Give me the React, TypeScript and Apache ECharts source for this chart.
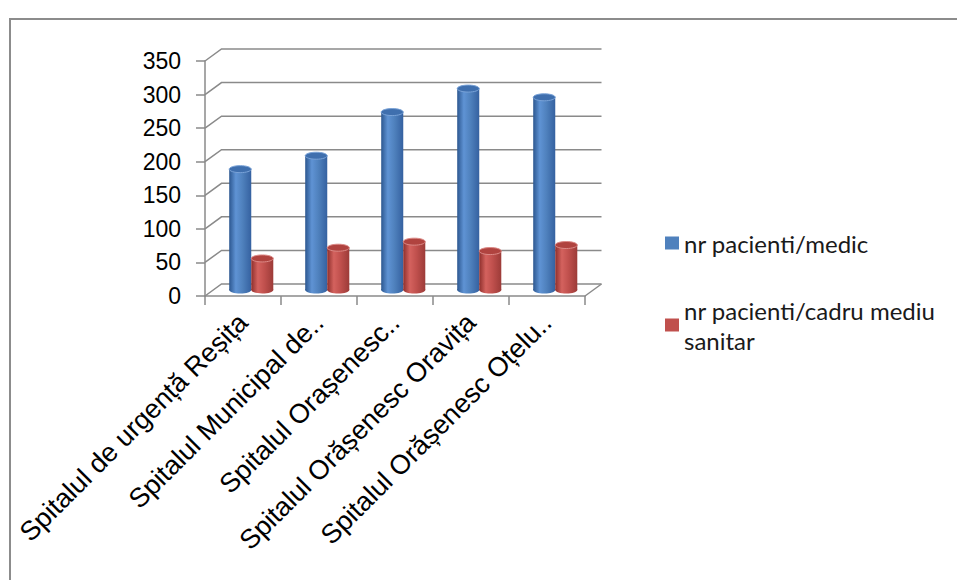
import React, { useEffect, useRef } from "react";
import * as echarts from "echarts";

const categories = [
  "Spitalul de urgență Reșița",
  "Spitalul Municipal de..",
  "Spitalul Orașenesc..",
  "Spitalul Orășenesc Oravița",
  "Spitalul Orășenesc Oțelu..",
];
const seriesNames = ["nr pacienti/medic", "nr pacienti/cadru mediu sanitar"];
const medicValues = [180, 200, 265, 300, 287];
const cadruValues = [47, 63, 72, 58, 67];
const yTicks = [0, 50, 100, 150, 200, 250, 300, 350];

const DX = 16.5;
const DY = 12;

function makeBarRender(side: number, palette: any) {
  return (params: any, api: any) => {
    const i = api.value(0);
    const v = api.value(1);
    const base = api.coord([i, 0]);
    const top = api.coord([i, v]);
    const bw = api.size([1, 0])[0];
    const w = bw * 0.29;
    const cx = base[0] + DX / 2 + side * (w / 2);
    const yb = base[1] - DY / 2;
    const yt = top[1] - DY / 2;
    const rx = w / 2;
    const ry = 3.5;
    const grad = new echarts.graphic.LinearGradient(0, 0, 1, 0, [
      { offset: 0, color: palette.dark },
      { offset: 0.3, color: palette.light },
      { offset: 0.6, color: palette.mid },
      { offset: 1, color: palette.edge },
    ]);
    return {
      type: "group",
      children: [
        { type: "rect", shape: { x: cx - rx, y: yt, width: w, height: yb - yt }, style: { fill: grad } },
        { type: "ellipse", shape: { cx, cy: yb, rx, ry }, style: { fill: grad } },
        { type: "ellipse", shape: { cx, cy: yt, rx, ry }, style: { fill: palette.top, stroke: palette.rim, lineWidth: 1 } },
      ],
    };
  };
}

export default function App() {
  const ref = useRef<HTMLDivElement>(null);
  useEffect(() => {
    const chart = echarts.init(ref.current as HTMLDivElement, null, { renderer: "svg" });
    const gray = "#8a8a8a";
    const option: any = {
      animation: false,
      backgroundColor: "#ffffff",
      graphic: [
        {
          type: "polyline",
          shape: { points: [[10, 580], [10, 19], [957, 19]] },
          style: { fill: "none", stroke: "#8c8c8c", lineWidth: 2 },
          silent: true,
        },
      ],
      legend: [
        {
          left: 660,
          top: 223,
          orient: "vertical",
          icon: "rect",
          itemWidth: 14,
          itemHeight: 13,
          itemGap: 8,
          data: [seriesNames[0]],
          textStyle: { fontFamily: "Lato", fontSize: 24, color: "#1a1a1a", lineHeight: 30 },
        },
        {
          left: 660,
          top: 275,
          orient: "vertical",
          icon: "rect",
          itemWidth: 14,
          itemHeight: 13,
          data: [seriesNames[1]],
          formatter: () => "nr pacienti/cadru mediu\nsanitar",
          textStyle: { fontFamily: "Lato", fontSize: 24, color: "#1a1a1a", lineHeight: 30, padding: [30, 0, 0, 0] },
        },
      ],
      grid: { left: 205, width: 380, top: 61, height: 235 },
      xAxis: {
        type: "category",
        data: categories,
        axisLine: { lineStyle: { color: gray, width: 1.5 } },
        axisTick: { show: true, length: 9, lineStyle: { color: gray, width: 1.5 } },
        axisLabel: {
          rotate: 45,
          margin: 22,
          color: "#000",
          fontFamily: "Liberation Sans",
          fontSize: 27,
          interval: 0,
        },
        splitLine: { show: false },
      },
      yAxis: {
        type: "value",
        min: 0,
        max: 350,
        interval: 50,
        axisLine: { show: true, lineStyle: { color: gray, width: 1.5 } },
        axisTick: { show: true, length: 9, lineStyle: { color: gray, width: 1.5 } },
        axisLabel: { margin: 24, color: "#000", fontFamily: "Liberation Sans", fontSize: 23 },
        splitLine: { show: false },
      },
      series: [
        {
          type: "custom",
          name: "walls",
          z: 1,
          silent: true,
          data: yTicks.map((t) => [0, t]),
          renderItem: (params: any, api: any) => {
            const v = api.value(1);
            const p = api.coord([0, v]);
            const bw = api.size([1, 0])[0];
            const lx = p[0] - bw / 2;
            const rxp = lx + bw * categories.length;
            const y = p[1];
            const children: any[] = [
              {
                type: "polyline",
                shape: { points: [[lx, y], [lx + DX, y - DY], [rxp + DX, y - DY]] },
                style: { fill: "none", stroke: gray, lineWidth: 1.5 },
              },
            ];
            if (v === 0) {
              children.push({
                type: "line",
                shape: { x1: rxp, y1: y, x2: rxp + DX, y2: y - DY },
                style: { stroke: gray, lineWidth: 1.5 },
              });
            }
            return { type: "group", children };
          },
        },
        {
          type: "custom",
          name: seriesNames[0],
          z: 2,
          itemStyle: { color: "#4F81BD" },
          data: medicValues.map((v, i) => [i, v]),
          renderItem: makeBarRender(-1, {
            dark: "#2c5790",
            light: "#5f93d4",
            mid: "#4f81bd",
            edge: "#3561a0",
            top: "#3f6fae",
            rim: "#7aa3d8",
          }),
        },
        {
          type: "custom",
          name: seriesNames[1],
          z: 2,
          itemStyle: { color: "#C0504D" },
          data: cadruValues.map((v, i) => [i, v]),
          renderItem: makeBarRender(1, {
            dark: "#8e2f2c",
            light: "#d4625e",
            mid: "#c0504d",
            edge: "#9c3b38",
            top: "#b0433f",
            rim: "#dc8a87",
          }),
        },
      ],
    };
    chart.setOption(option);
    return () => chart.dispose();
  }, []);
  return (
    <div
      ref={ref}
      style={{ position: "fixed", left: 0, top: 0, width: 957, height: 580, background: "#fff" }}
    />
  );
}
